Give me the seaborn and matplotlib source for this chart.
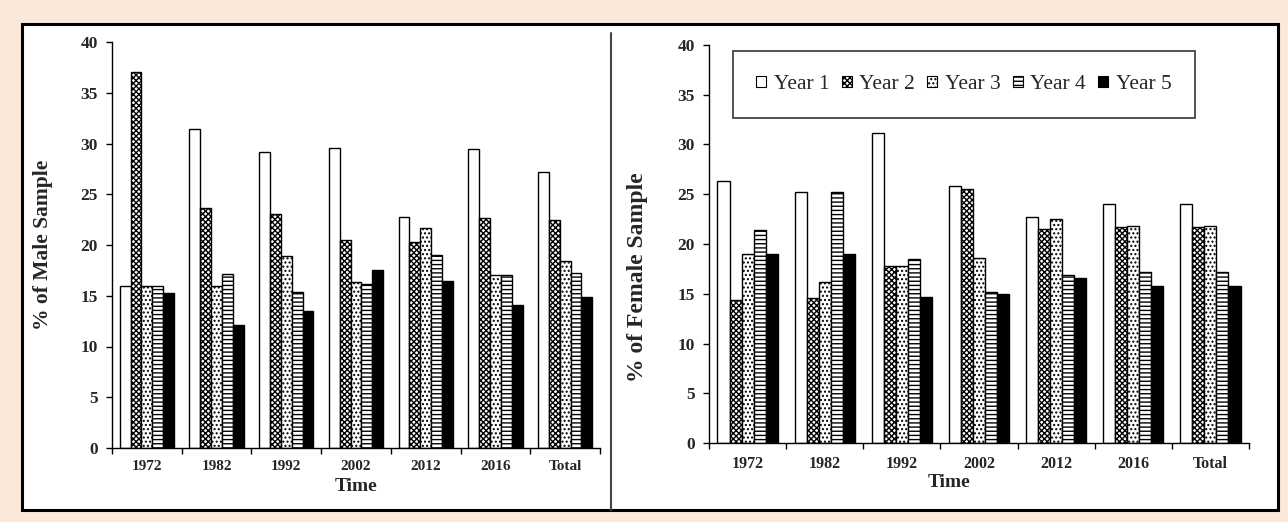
import numpy as np
import pandas as pd
import matplotlib
matplotlib.use("Agg")
import matplotlib.pyplot as plt
import seaborn as sns
from matplotlib.patches import Rectangle, Patch
from matplotlib.lines import Line2D

# ---------------- data ----------------
categories = ["1972", "1982", "1992", "2002", "2012", "2016", "Total"]
series = ["Year 1", "Year 2", "Year 3", "Year 4", "Year 5"]

male_year1 = [16.0, 31.4, 29.2, 29.6, 22.8, 29.5, 27.2]
male_year2 = [37.0, 23.6, 23.1, 20.5, 20.3, 22.7, 22.5]
male_year3 = [16.0, 16.0, 18.9, 16.4, 21.7, 17.0, 18.4]
male_year4 = [16.0, 17.1, 15.4, 16.2, 19.0, 17.0, 17.2]
male_year5 = [15.3, 12.1, 13.5, 17.5, 16.5, 14.1, 14.9]

female_year1 = [26.3, 25.2, 31.2, 25.8, 22.7, 24.0, 24.0]
female_year2 = [14.4, 14.6, 17.8, 25.5, 21.5, 21.7, 21.7]
female_year3 = [19.0, 16.2, 17.8, 18.6, 22.5, 21.8, 21.8]
female_year4 = [21.4, 25.2, 18.5, 15.2, 16.9, 17.2, 17.2]
female_year5 = [19.0, 19.0, 14.7, 15.0, 16.6, 15.8, 15.8]

yticks = [0, 5, 10, 15, 20, 25, 30, 35, 40]


def to_long(cols):
    rows = []
    for s, vals in zip(series, cols):
        for c, v in zip(categories, vals):
            rows.append({"Time": c, "Series": s, "Value": v})
    return pd.DataFrame(rows)


male_df = to_long([male_year1, male_year2, male_year3, male_year4, male_year5])
female_df = to_long([female_year1, female_year2, female_year3, female_year4, female_year5])

# ---------------- style ----------------
sns.set_theme(style="white")
plt.rcParams["font.family"] = ["Liberation Serif", "DejaVu Serif"]
plt.rcParams["hatch.linewidth"] = 1.0

W, H = 1288, 522
fig = plt.figure(figsize=(W / 100, H / 100), dpi=100, facecolor="#FCE8D9")

# white panel with black border
fig.patches.append(Rectangle((22 / W, 1 - 510 / H), (1278 - 22) / W, (510 - 24) / H,
                             transform=fig.transFigure, facecolor="white",
                             edgecolor="black", linewidth=2.2, zorder=-10))
fig.lines.append(Line2D([611 / W, 611 / W], [1 - 33 / H, 1 - 510 / H],
                        transform=fig.transFigure, color="#444444", linewidth=1.5,
                        zorder=-5))

faces = ["white", "white", "white", "white", "black"]
hatches = ["", "xxxxxx", "....", "----", ""]

axL = fig.add_axes([112 / W, 1 - 448 / H, 488 / W, 406 / H])
axR = fig.add_axes([709 / W, 1 - 443 / H, 540 / W, 398 / H])


def draw(ax, df, ylabel, ylab_x, ylab_y, ylab_size, xlab_x, xlab_y, xt_size):
    sns.barplot(data=df, x="Time", y="Value", hue="Series", order=categories,
                hue_order=series, palette=faces, saturation=1, width=0.78,
                edgecolor="black", linewidth=1.0, errorbar=None, legend=False, ax=ax)
    for cont, h in zip(ax.containers, hatches):
        for bar in cont:
            bar.set_hatch(h)
    ax.set_facecolor("white")
    ax.set_ylim(0, 40)
    ax.set_xlim(-0.5, len(categories) - 0.5)
    ax.set_yticks(yticks)
    ax.set_yticklabels([str(t) for t in yticks], fontsize=12.5, fontweight="bold")
    ax.set_xticks(range(len(categories)))
    ax.set_xticklabels(categories, fontsize=xt_size, fontweight="bold")
    ax.set_xticks(np.arange(-0.5, len(categories), 1.0), minor=True)
    ax.tick_params(axis="x", which="major", length=0, pad=9)
    ax.tick_params(axis="x", which="minor", length=4, width=1, direction="out",
                   bottom=True, color="black")
    ax.tick_params(axis="y", which="major", length=4, width=1, direction="out",
                   left=True, color="black", pad=6)
    for s in ["top", "right"]:
        ax.spines[s].set_visible(False)
    for s in ["left", "bottom"]:
        ax.spines[s].set_color("black")
        ax.spines[s].set_linewidth(1.0)
    ax.set_ylabel(ylabel, fontsize=ylab_size, fontweight="bold")
    ax.set_xlabel("Time", fontsize=14, fontweight="bold")
    ax.yaxis.set_label_coords(ylab_x, ylab_y)
    ax.xaxis.set_label_coords(xlab_x, xlab_y)


draw(axL, male_df, "% of Male Sample", -0.121, 0.50, 15.5, 0.50, -0.074, 11)
draw(axR, female_df, "% of Female Sample", -0.113, 0.417, 17, 0.445, -0.078, 11.5)

handles = [Patch(facecolor=f, edgecolor="black", hatch=h, linewidth=0.8)
           for f, h in zip(faces, hatches)]
leg = axR.legend(handles, series, loc="center",
                 bbox_to_anchor=(0.044, 0.819, 0.856, 0.163), mode="expand",
                 borderaxespad=0.0,
                 ncol=5, fontsize=15.5, frameon=True, fancybox=False,
                 edgecolor="black", borderpad=1.1, handlelength=0.45,
                 handleheight=0.45, handletextpad=0.35, columnspacing=0.8)
leg.get_frame().set_linewidth(1.2)

fig.savefig("out.png", dpi=100, facecolor=fig.get_facecolor())
